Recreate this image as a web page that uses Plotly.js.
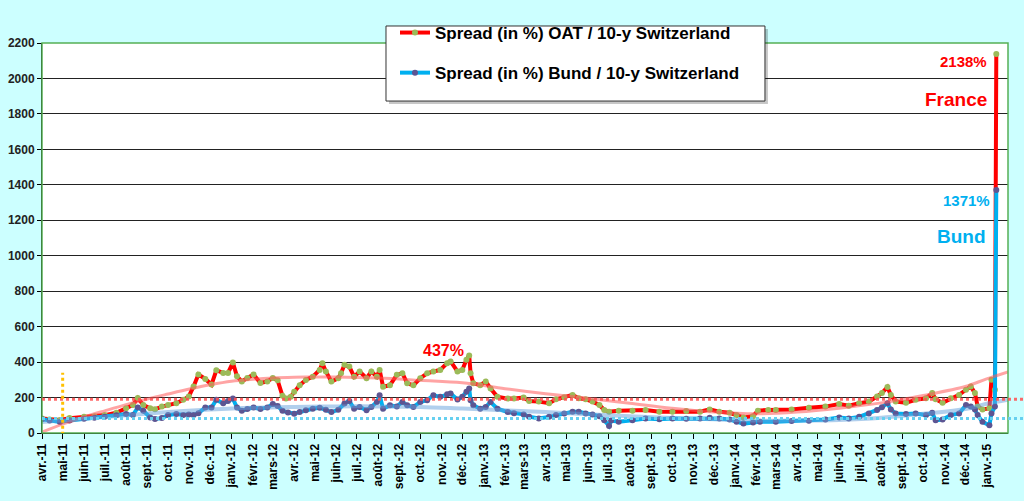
<!DOCTYPE html>
<html><head><meta charset="utf-8">
<script src="https://cdn.plot.ly/plotly-3.0.1.min.js"></script>
<style>html,body{margin:0;padding:0;background:#ccffff;} #chart{width:1024px;height:501px;}</style>
</head><body><div id="chart"></div>
<script>
// ---- data ----
const oatDates = ['2011-04-01','2011-04-12','2011-04-27','2011-05-11','2011-06-01','2011-06-16','2011-07-01','2011-07-18','2011-08-01','2011-08-11','2011-08-18','2011-08-26','2011-09-05','2011-09-12','2011-09-22','2011-10-01','2011-10-13','2011-10-23','2011-10-31','2011-11-07','2011-11-14','2011-11-24','2011-12-03','2011-12-10','2011-12-20','2011-12-27','2012-01-03','2012-01-09','2012-01-16','2012-01-24','2012-02-02','2012-02-12','2012-02-22','2012-03-01','2012-03-08','2012-03-15','2012-03-20','2012-03-27','2012-04-01','2012-04-09','2012-04-18','2012-04-28','2012-05-08','2012-05-12','2012-05-17','2012-05-25','2012-06-04','2012-06-08','2012-06-13','2012-06-20','2012-06-27','2012-07-05','2012-07-15','2012-07-22','2012-07-30','2012-08-03','2012-08-08','2012-08-18','2012-08-28','2012-09-05','2012-09-12','2012-09-21','2012-10-01','2012-10-11','2012-10-20','2012-10-30','2012-11-09','2012-11-14','2012-11-24','2012-12-01','2012-12-07','2012-12-11','2012-12-13','2012-12-17','2012-12-27','2013-01-04','2013-01-11','2013-01-21','2013-02-05','2013-02-14','2013-02-28','2013-03-08','2013-03-22','2013-04-06','2013-04-16','2013-04-28','2013-05-10','2013-05-19','2013-05-29','2013-06-08','2013-06-18','2013-06-25','2013-07-02','2013-07-16','2013-08-05','2013-08-24','2013-09-13','2013-10-02','2013-10-22','2013-11-11','2013-11-25','2013-12-09','2013-12-24','2014-01-03','2014-01-13','2014-01-27','2014-02-03','2014-02-18','2014-03-01','2014-03-24','2014-04-18','2014-05-12','2014-06-01','2014-06-15','2014-06-30','2014-07-14','2014-07-26','2014-08-02','2014-08-10','2014-08-15','2014-08-22','2014-09-06','2014-09-20','2014-10-05','2014-10-14','2014-10-19','2014-10-29','2014-11-10','2014-11-22','2014-12-02','2014-12-09','2014-12-15','2014-12-19','2014-12-26','2015-01-05','2015-01-08','2015-01-13','2015-01-15'];
const oatValues = [82,76,73,84,91,95,101,114,139,158,197,158,139,134,149,158,168,187,206,263,330,305,273,354,339,339,397,320,291,310,330,282,291,310,297,210,194,205,232,270,299,318,356,394,347,290,309,337,385,375,318,347,309,347,318,356,261,270,328,337,280,270,309,337,347,356,394,404,347,356,413,437,337,280,270,290,251,204,194,194,200,180,177,168,190,202,215,196,190,177,158,130,120,126,126,130,120,120,124,120,133,120,114,101,88,95,126,130,130,133,143,149,164,154,168,177,206,225,259,215,177,171,187,196,225,190,171,196,215,244,263,225,149,133,139,301,244,2138];

const bundDates = ['2011-04-01','2011-04-12','2011-04-27','2011-05-11','2011-06-01','2011-06-16','2011-07-01','2011-07-18','2011-08-01','2011-08-11','2011-08-18','2011-08-26','2011-09-05','2011-09-12','2011-09-22','2011-10-01','2011-10-13','2011-10-23','2011-10-31','2011-11-07','2011-11-14','2011-11-24','2011-12-03','2011-12-10','2011-12-20','2011-12-27','2012-01-03','2012-01-09','2012-01-16','2012-01-24','2012-02-02','2012-02-12','2012-02-22','2012-03-01','2012-03-08','2012-03-15','2012-03-23','2012-04-01','2012-04-09','2012-04-18','2012-04-28','2012-05-08','2012-05-17','2012-05-25','2012-06-04','2012-06-13','2012-06-20','2012-06-27','2012-07-05','2012-07-15','2012-07-22','2012-07-30','2012-08-03','2012-08-08','2012-08-18','2012-08-28','2012-09-05','2012-09-12','2012-09-21','2012-10-01','2012-10-11','2012-10-20','2012-10-30','2012-11-09','2012-11-14','2012-11-24','2012-12-01','2012-12-07','2012-12-11','2012-12-13','2012-12-17','2012-12-27','2013-01-04','2013-01-11','2013-01-21','2013-02-05','2013-02-14','2013-02-28','2013-03-08','2013-03-22','2013-04-06','2013-04-16','2013-04-28','2013-05-10','2013-05-19','2013-05-29','2013-06-08','2013-06-18','2013-06-25','2013-07-02','2013-07-05','2013-07-16','2013-08-05','2013-08-24','2013-09-13','2013-10-02','2013-10-22','2013-11-11','2013-11-25','2013-12-09','2013-12-24','2014-01-03','2014-01-13','2014-01-27','2014-02-06','2014-03-01','2014-03-24','2014-04-18','2014-05-12','2014-06-01','2014-06-15','2014-06-30','2014-07-14','2014-07-26','2014-08-02','2014-08-10','2014-08-15','2014-08-22','2014-09-06','2014-09-20','2014-10-05','2014-10-14','2014-10-19','2014-10-29','2014-11-10','2014-11-22','2014-12-02','2014-12-09','2014-12-15','2014-12-19','2014-12-26','2015-01-05','2015-01-08','2015-01-13','2015-01-15'];
const bundValues = [78,70,62,70,80,86,92,100,107,101,144,125,88,79,84,101,107,101,105,101,112,144,144,187,168,181,194,144,125,135,144,135,144,163,153,125,115,109,118,128,137,143,131,118,131,166,181,137,147,128,147,175,213,137,156,150,175,156,147,175,185,213,204,219,223,189,204,232,251,185,156,137,147,175,137,118,112,105,92,82,91,101,110,120,120,110,105,95,72,40,70,63,72,82,78,82,80,82,86,82,76,63,53,59,63,63,67,69,76,88,82,91,110,130,145,168,133,110,107,110,101,114,72,76,101,110,158,149,133,101,63,44,110,149,1371];

const oatTrendDates = ['2011-04-01','2011-05-01','2011-06-01','2011-07-01','2011-08-01','2011-09-01','2011-10-01','2011-11-01','2011-12-01','2012-01-01','2012-02-01','2012-03-01','2012-04-01','2012-05-01','2012-06-01','2012-08-01','2012-10-01','2012-12-01','2013-02-01','2013-04-01','2013-06-01','2013-08-01','2013-10-01','2013-12-01','2014-02-01','2014-04-01','2014-06-01','2014-08-01','2014-10-01','2014-12-01','2015-01-01','2015-02-01'];
const oatTrendValues = [5,50,90,125,160,192,220,248,272,292,303,310,314,316,316,310,297,283,250,222,196,168,140,118,108,118,140,170,212,262,305,345];

const bundTrendDates = ['2011-04-01','2011-06-01','2011-08-01','2011-10-01','2011-12-01','2012-02-01','2012-04-01','2012-06-01','2012-08-01','2012-10-01','2012-12-01','2013-02-01','2013-04-01','2013-06-01','2013-08-01','2013-10-01','2013-12-01','2014-02-01','2014-04-01','2014-06-01','2014-08-01','2014-10-01','2014-12-01','2015-01-01','2015-02-01'];
const bundTrendValues = [62,80,100,118,132,142,147,150,150,147,138,128,118,106,95,85,77,70,70,74,86,108,135,165,188];

const oatMean = 190;
const bundMean = 82;
const markerDate = '2011-05-01';
const markerTop = 340;

const monthLabels = ['janv.','févr.','mars','avr.','mai','juin','juil.','août','sept.','oct.','nov.','déc.'];
const firstTick = {year: 2011, month: 4};
const tickCount = 46;

const legendNames = ['Spread (in %) OAT / 10-y Switzerland', 'Spread (in %) Bund / 10-y Switzerland'];

// ---- ticks ----
const tickvals = [], ticktext = [];
for (let i = 0; i < tickCount; i++) {
  const m0 = firstTick.month - 1 + i;
  const y = firstTick.year + Math.floor(m0 / 12);
  const m = m0 % 12;
  tickvals.push(y + '-' + String(m + 1).padStart(2, '0') + '-01');
  ticktext.push(monthLabels[m] + '-' + String(y).slice(2));
}

const FONT = 'Liberation Sans, Arial, sans-serif';
const last = a => a[a.length - 1];

const traces = [
  {x: oatDates, y: oatValues, mode: 'lines+markers', name: legendNames[0], legendgroup: 'a',
   line: {color: '#ff0000', width: 4}, marker: {color: '#9bbb59', size: 6}},
  {x: bundDates, y: bundValues, mode: 'lines+markers', name: legendNames[1], legendgroup: 'b',
   line: {color: '#00b0f0', width: 4}, marker: {color: '#5d5592', size: 6}},
  {x: oatTrendDates, y: oatTrendValues, mode: 'lines', line: {color: 'rgba(255,90,90,0.55)', width: 3, shape: 'spline'},
   showlegend: false, hoverinfo: 'skip'},
  {x: bundTrendDates, y: bundTrendValues, mode: 'lines', line: {color: 'rgba(100,160,220,0.5)', width: 4, shape: 'spline'},
   showlegend: false, hoverinfo: 'skip'}
];

const peakIdx = oatValues.slice(0, -1).indexOf(Math.max(...oatValues.slice(0, -1)));

const layout = {
  width: 1024, height: 501,
  margin: {l: 42, r: 16, t: 43, b: 68},
  paper_bgcolor: '#ccffff', plot_bgcolor: '#ffffff',
  font: {family: FONT, color: '#000'},
  xaxis: {type: 'date', range: ['2011-04-01', '2015-02-01'], tickvals: tickvals, ticktext: ticktext,
    tickangle: -90, tickfont: {family: FONT, size: 12, weight: 'bold', color: '#000'},
    ticks: 'outside', ticklen: 5, tickcolor: '#000', showgrid: false, showline: true, linecolor: '#000', linewidth: 1,
    zeroline: false},
  yaxis: {range: [0, 2200], dtick: 200, tick0: 0, tickfont: {family: FONT, size: 12, weight: 'bold', color: '#222'},
    ticks: 'outside', ticklen: 4, tickcolor: '#000', showgrid: true, gridcolor: '#222', gridwidth: 1,
    showline: true, linecolor: '#000', linewidth: 1, zeroline: false},
  showlegend: true,
  legend: {x: 0.3654, y: 1.0718, xanchor: 'left', yanchor: 'top', bgcolor: 'rgba(0,0,0,0)', borderwidth: 0,
    font: {family: FONT, size: 17, weight: 'bold', color: '#000'}, traceorder: 'grouped', tracegroupgap: 15},
  shapes: [
    {type: 'rect', xref: 'paper', yref: 'paper', x0: 0, x1: 1, y0: 0, y1: 1, line: {color: '#55b055', width: 1.5}, layer: 'above'},
    {type: 'line', xref: 'paper', yref: 'y', x0: 0, x1: 1.017, y0: oatMean, y1: oatMean, line: {color: 'rgba(255,80,80,0.85)', width: 3, dash: 'dot'}},
    {type: 'line', xref: 'paper', yref: 'y', x0: 0, x1: 1.017, y0: bundMean, y1: bundMean, line: {color: '#66d0f0', width: 3, dash: 'dot'}},
    {type: 'line', xref: 'x', yref: 'y', x0: markerDate, x1: markerDate, y0: -10, y1: markerTop, line: {color: '#ffc000', width: 3, dash: 'dot'}},
    // legend frame with drop shadow
    {type: 'rect', xref: 'paper', yref: 'paper', x0: 0.3592, x1: 0.7515, y0: 0.8435, y1: 1.0359, fillcolor: 'rgba(0,0,0,0.22)', line: {width: 0}, layer: 'above'},
    {type: 'rect', xref: 'paper', yref: 'paper', x0: 0.3561, x1: 0.7484, y0: 0.8512, y1: 1.0436, fillcolor: '#ffffff', line: {color: '#333', width: 1}, layer: 'above'}
  ],
  annotations: [
    {x: oatDates[peakIdx], y: oatValues[peakIdx], text: oatValues[peakIdx] + '%', showarrow: false, xanchor: 'right', yanchor: 'bottom', xshift: -3, yshift: -5,
     font: {family: FONT, size: 16, weight: 'bold', color: '#ff0000'}},
    {x: last(oatDates), y: last(oatValues), text: last(oatValues) + '%', showarrow: false, xanchor: 'right', yanchor: 'middle', xshift: -7, yshift: -8,
     font: {family: FONT, size: 15, weight: 'bold', color: '#ff0000'}},
    {x: last(oatDates), y: last(oatValues), text: 'France', showarrow: false, xanchor: 'right', yanchor: 'middle', xshift: -7, yshift: -46,
     font: {family: FONT, size: 19, weight: 'bold', color: '#ff0000'}},
    {x: last(bundDates), y: last(bundValues), text: last(bundValues) + '%', showarrow: false, xanchor: 'right', yanchor: 'middle', xshift: -4, yshift: -11,
     font: {family: FONT, size: 15, weight: 'bold', color: '#00b0f0'}},
    {x: last(bundDates), y: last(bundValues), text: 'Bund', showarrow: false, xanchor: 'right', yanchor: 'middle', xshift: -8, yshift: -47,
     font: {family: FONT, size: 19, weight: 'bold', color: '#00b0f0'}}
  ]
};

Plotly.newPlot('chart', traces, layout, {displayModeBar: false, staticPlot: true});
</script></body></html>
